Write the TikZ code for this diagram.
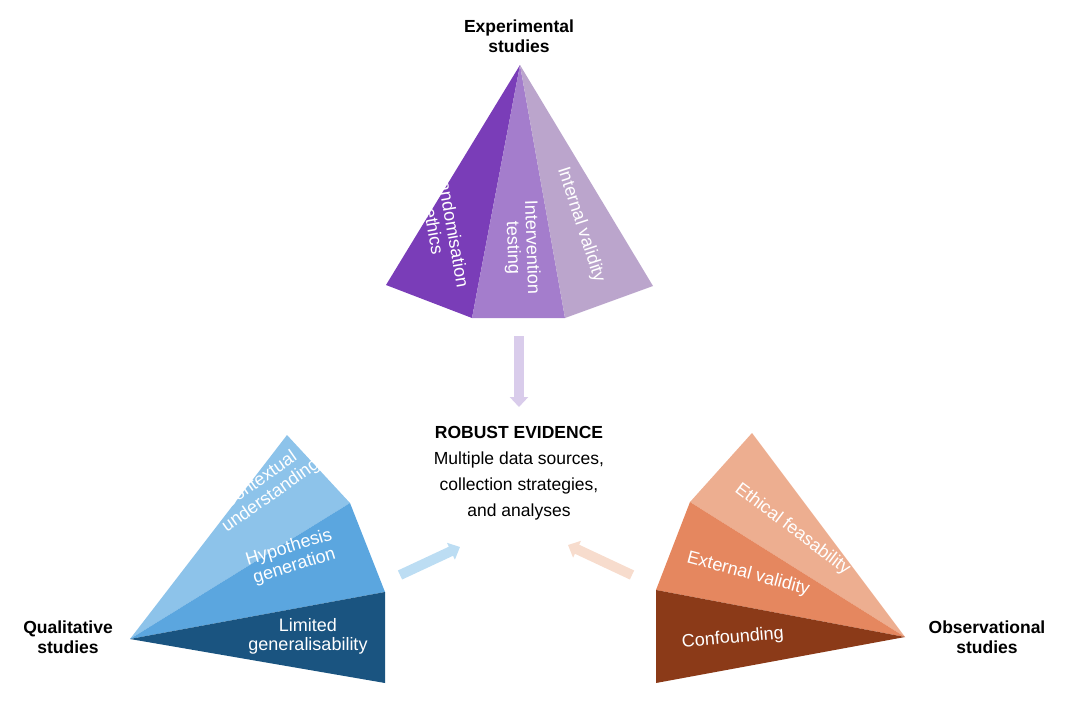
\documentclass[tikz,border=0pt]{standalone}
\usepackage{fontspec}
\setmainfont{Liberation Sans}
\usetikzlibrary{arrows.meta}
\definecolor{pA}{HTML}{7A3DB8}\definecolor{pB}{HTML}{A47DCC}\definecolor{pC}{HTML}{BBA5CC}
\definecolor{bA}{HTML}{8DC3EA}\definecolor{bB}{HTML}{5BA6DF}\definecolor{bC}{HTML}{1A5480}
\definecolor{oA}{HTML}{EDAE90}\definecolor{oB}{HTML}{E5875F}\definecolor{oC}{HTML}{8B3A18}
\definecolor{arP}{HTML}{D9CCEB}\definecolor{arB}{HTML}{BCDDF3}\definecolor{arO}{HTML}{F7DCCD}
\newcommand{\rtxt}[2]{\rotatebox{#1}{\begin{tabular}{@{}c@{}}#2\end{tabular}}}
\tikzset{face/.style={text=white,inner sep=0pt,font=\fontsize{18}{19}\selectfont},
lab/.style={align=center,font=\bfseries\fontsize{17.5}{20}\selectfont},
fat/.style={line width=10pt,-{Triangle[length=10pt,width=18pt]}}}
\begin{document}
\begin{tikzpicture}[x=1pt,y=-1pt]
\useasboundingbox (0,0) rectangle (1090,702);
% faces
\fill[pA] (520,65)--(386,285)--(472,318)--cycle;
\fill[pB] (520,65)--(472,318)--(565,318)--cycle;
\fill[pC] (520,65)--(565,318)--(653,286)--cycle;
\fill[bA] (130,639)--(287,435)--(350,503)--cycle;
\fill[bB] (130,639)--(350,503)--(385,592)--cycle;
\fill[bC] (130,639)--(385,592)--(385,683)--cycle;
\fill[oA] (905,637)--(752,433)--(690,502)--cycle;
\fill[oB] (905,637)--(690,502)--(656,590)--cycle;
\fill[oC] (905,637)--(656,590)--(656,683)--cycle;
% top
\node[face] (t1) at (441,230) {\rtxt{-80}{Randomisation\\ethics}};
\node[face] (t2) at (521,248) {\rtxt{-88}{Intervention\\testing}};
\node[face] (t3) at (580,225) {\rtxt{-72}{Internal validity}};
\node[lab] (exp) at (519,36) {Experimental\\studies};
% left
\node[face] (l1) at (266,489) {\rtxt{35}{Contextual\\understanding}};
\node[face] (l2) at (292,558) {\rtxt{17}{Hypothesis\\generation}};
\node[face] (l3) at (308,637) {\rtxt{0}{Limited\\generalisability}};
\node[lab] (qual) at (68,637) {Qualitative\\studies};
% right
\node[face] (r1) at (792,530) {\rtxt{-37}{Ethical feasability}};
\node[face] (r2) at (748,575) {\rtxt{-15}{External validity}};
\node[face] (r3) at (733,639) {\rtxt{5}{Confounding}};
\node[lab] (obs) at (987,637) {Observational\\studies};
% centre
\node[align=center,font=\fontsize{17.5}{26}\selectfont] (ev) at (519,473) {\textbf{ROBUST EVIDENCE}\\Multiple data sources,\\collection strategies,\\and analyses};
\coordinate (ta) at (519,336); \coordinate (tb) at (519,407);
\coordinate (la) at (400,575); \coordinate (lb) at (460,547);
\coordinate (ra) at (632,575); \coordinate (rb) at (568,545);
\draw[fat,arP] (ta)--(tb);
\draw[fat,arB] (la)--(lb);
\draw[fat,arO] (ra)--(rb);
\end{tikzpicture}
\end{document}
